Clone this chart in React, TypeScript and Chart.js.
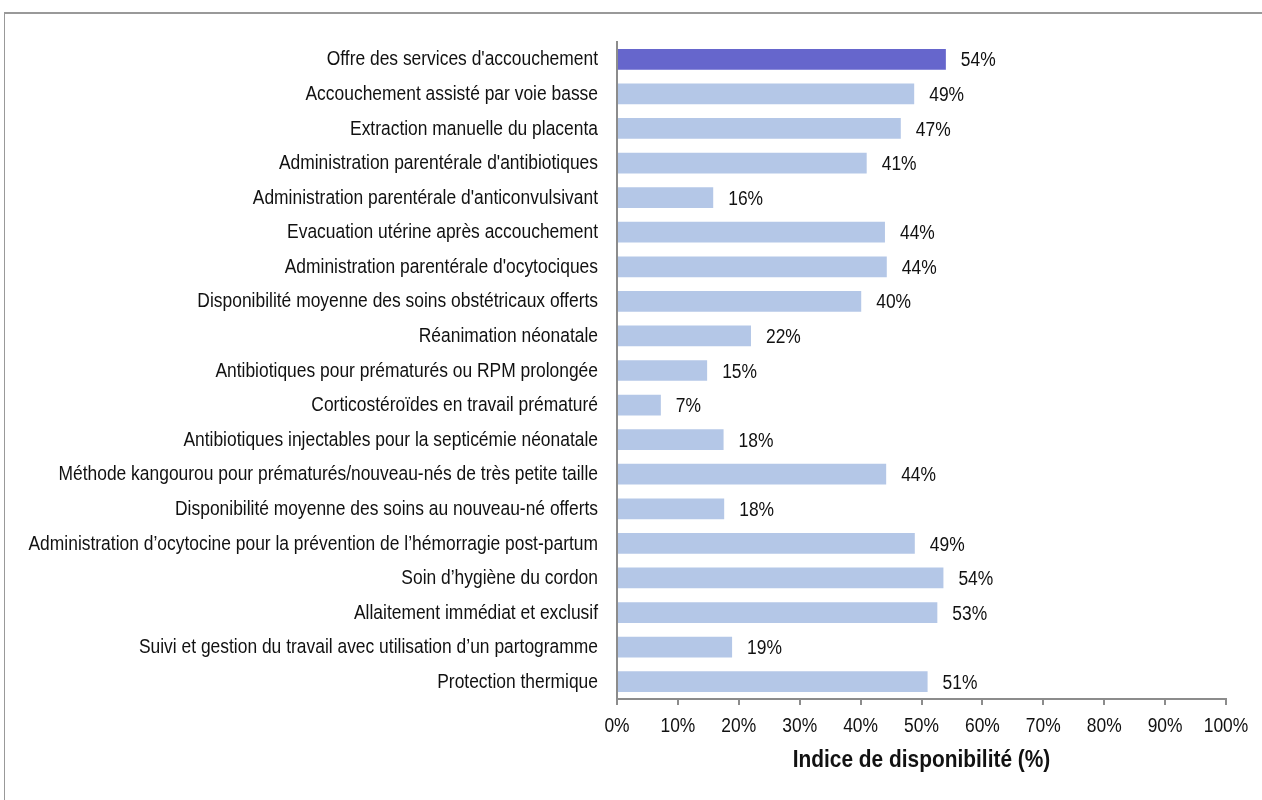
import React, { useEffect, useRef } from "react";
import { Chart, registerables } from "chart.js";

Chart.register(...registerables);

const categories: string[] = [
  "Offre des services d'accouchement",
  "Accouchement assisté par voie basse",
  "Extraction manuelle du placenta",
  "Administration parentérale d'antibiotiques",
  "Administration parentérale d'anticonvulsivant",
  "Evacuation utérine après accouchement",
  "Administration parentérale d'ocytociques",
  "Disponibilité moyenne des soins obstétricaux offerts",
  "Réanimation néonatale",
  "Antibiotiques pour prématurés ou RPM prolongée",
  "Corticostéroïdes en travail prématuré",
  "Antibiotiques injectables pour la septicémie néonatale",
  "Méthode kangourou pour prématurés/nouveau-nés de très petite taille",
  "Disponibilité moyenne des soins au nouveau-né offerts",
  "Administration d’ocytocine pour la prévention de l’hémorragie post-partum",
  "Soin d’hygiène du cordon",
  "Allaitement immédiat et exclusif",
  "Suivi et gestion du travail avec utilisation d’un partogramme",
  "Protection thermique",
];

const values: number[] = [
  54.0, 48.8, 46.6, 41.0, 15.8, 44.0, 44.3, 40.1, 22.0, 14.8, 7.2, 17.5, 44.2,
  17.6, 48.9, 53.6, 52.6, 18.9, 51.0,
];

const valueLabels: string[] = [
  "54%", "49%", "47%", "41%", "16%", "44%", "44%", "40%", "22%", "15%", "7%",
  "18%", "44%", "18%", "49%", "54%", "53%", "19%", "51%",
];

const xTicks: number[] = [0, 10, 20, 30, 40, 50, 60, 70, 80, 90, 100];
const xTickLabels: string[] = ["0%", "10%", "20%", "30%", "40%", "50%", "60%", "70%", "80%", "90%", "100%"];
const axisTitle = "Indice de disponibilité (%)";

const HIGHLIGHT = "#6666CC";
const BASE = "#B4C7E7";
const FONT = "'Liberation Sans', Arial, sans-serif";
const TEXT_COLOR = "#111";
const SX = 0.85;

function drawNarrow(
  ctx: CanvasRenderingContext2D,
  text: string,
  x: number,
  y: number,
  align: CanvasTextAlign,
  size: number,
  bold = false,
  sx = SX
) {
  ctx.save();
  ctx.font = `${bold ? "bold " : ""}${size}px ${FONT}`;
  ctx.fillStyle = TEXT_COLOR;
  ctx.textAlign = align;
  ctx.textBaseline = "middle";
  ctx.translate(x, y);
  ctx.scale(sx, 1);
  ctx.fillText(text, 0, 0);
  ctx.restore();
}

const textPlugin = {
  id: "narrowText",
  afterDraw(chart: any) {
    const ctx = chart.ctx as CanvasRenderingContext2D;
    const meta = chart.getDatasetMeta(0);
    const xs = chart.scales.x;
    const ys = chart.scales.y;
    const area = chart.chartArea;
    categories.forEach((label, i) => {
      const y = ys.getPixelForValue(i);
      drawNarrow(ctx, label, area.left - 19, y + 0.5, "right", 20.5);
    });
    meta.data.forEach((bar: any, i: number) => {
      drawNarrow(ctx, valueLabels[i], bar.x + 15, bar.y + 1.5, "left", 20.5);
    });
    xTicks.forEach((v, i) => {
      drawNarrow(ctx, xTickLabels[i], xs.getPixelForValue(v), area.bottom + 27, "center", 20.5);
    });
    drawNarrow(ctx, axisTitle, (area.left + area.right) / 2, area.bottom + 61.5, "center", 24, true, 0.87);
  },
};

export default function App() {
  const ref = useRef<HTMLCanvasElement | null>(null);

  useEffect(() => {
    if (!ref.current) return;
    const chart = new Chart(ref.current, {
      type: "bar",
      data: {
        labels: categories,
        datasets: [
          {
            data: values,
            backgroundColor: values.map((_, i) => (i === 0 ? HIGHLIGHT : BASE)),
            barPercentage: 0.6,
            categoryPercentage: 1,
          },
        ],
      },
      options: {
        indexAxis: "y",
        animation: false,
        responsive: false,
        layout: { padding: { top: 42, right: 36, left: 0, bottom: 0 } },
        plugins: {
          legend: { display: false },
          tooltip: { enabled: false },
          title: { display: false },
        },
        scales: {
          x: {
            min: 0,
            max: 100,
            afterBuildTicks(scale: any) {
              scale.ticks = xTicks.map((v) => ({ value: v }));
            },
            afterFit(scale: any) {
              scale.height = 101;
            },
            ticks: { display: false },
            grid: {
              display: true,
              drawOnChartArea: false,
              drawTicks: true,
              tickLength: 6,
              color: "#8c8c8c",
              lineWidth: 2,
            },
            border: { display: true, color: "#8c8c8c", width: 2 },
          },
          y: {
            afterFit(scale: any) {
              scale.width = 617;
            },
            ticks: { display: false, autoSkip: false },
            grid: { display: false, drawTicks: false },
            border: { display: true, color: "#8c8c8c", width: 2 },
          },
        },
      },
      plugins: [textPlugin],
    });
    return () => chart.destroy();
  }, []);

  return (
    <div style={{ position: "absolute", left: 0, top: 0, width: 1262, height: 800, background: "#fff", overflow: "hidden" }}>
      <div
        style={{
          position: "absolute",
          left: 4,
          top: 12,
          width: 1262,
          height: 800,
          borderLeft: "1px solid #999",
          borderTop: "2px solid #999",
        }}
      />
      <canvas ref={ref} width={1262} height={800} style={{ position: "absolute", left: 0, top: 0 }} />
    </div>
  );
}
